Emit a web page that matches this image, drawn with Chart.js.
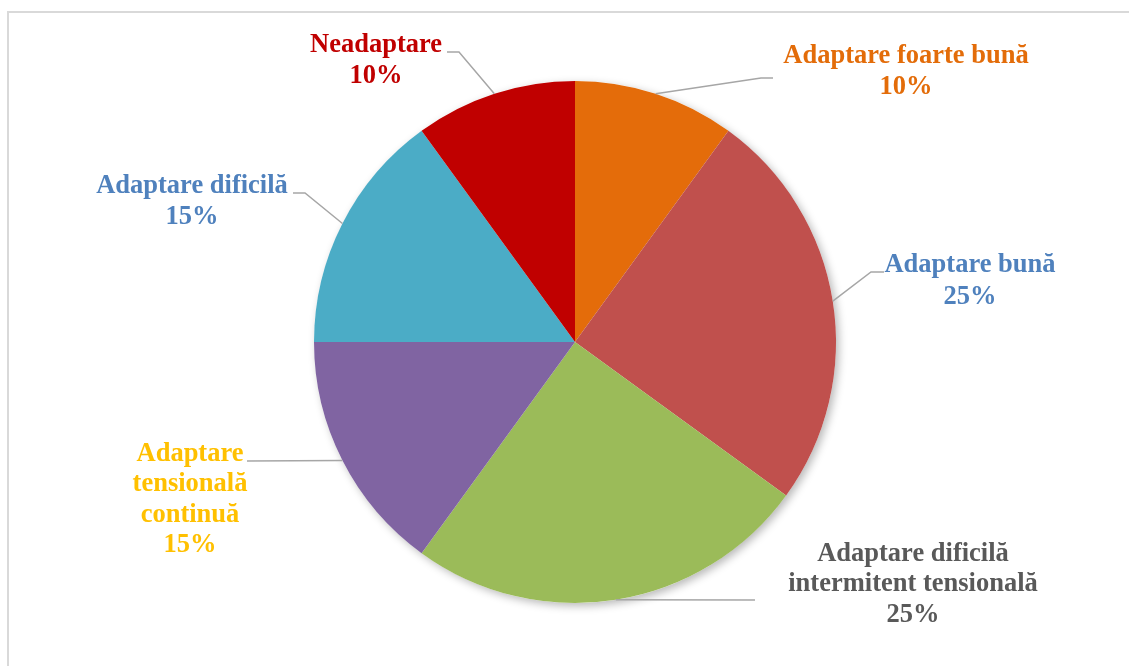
<!DOCTYPE html>
<html>
<head>
<meta charset="utf-8">
<script src="https://cdn.jsdelivr.net/npm/chart.js"></script>
<style>
  html, body { margin: 0; padding: 0; background: #fff; }
  #wrap { width: 1129px; height: 666px; position: relative; }
</style>
</head>
<body>
<div id="wrap"><canvas id="myChart" width="1129" height="666"></canvas></div>
<script>
// data
const categories = [
    ['Adaptare foarte bună'],
    ['Adaptare bună'],
    ['Adaptare dificilă', 'intermitent tensională'],
    ['Adaptare', 'tensională', 'continuă'],
    ['Adaptare dificilă'],
    ['Neadaptare']
];
const values = [10, 25, 25, 15, 15, 10];
const sliceColors = ['#E46C0A', '#C0504D', '#9BBB59', '#8064A2', '#4BACC6', '#C00000'];
const labelColors = ['#E36C09', '#4F81BD', '#595959', '#FFC000', '#4F81BD', '#C00000'];

// label layout, offsets from pie centre: leader elbow, leader end, text centre of first line
const labelLayout = [
    { elbow: [186, -264], end: [198, -264], text: [331, -286], gap: 31 },
    { elbow: [296, -70], end: [309, -70], text: [395, -77], gap: 32 },
    { elbow: null, end: [180, 258], text: [338, 212], gap: 30.5 },
    { elbow: null, end: [-328, 119], text: [-385, 112], gap: 30.5 },
    { elbow: [-270, -149], end: [-282, -149], text: [-383, -156], gap: 31 },
    { elbow: [-116, -290], end: [-128, -290], text: [-199, -297], gap: 31 }
];

const total = values.reduce((a, b) => a + b, 0);

const framePlugin = {
    id: 'frame',
    beforeDraw(chart) {
        const c = chart.ctx;
        c.save();
        c.strokeStyle = '#D9D9D9';
        c.lineWidth = 2;
        c.strokeRect(8, 12, 1200, 700);
        c.restore();
    }
};

const shadowPlugin = {
    id: 'pieShadow',
    beforeDatasetsDraw(chart) {
        const arc = chart.getDatasetMeta(0).data[0];
        if (!arc) return;
        const c = chart.ctx;
        c.save();
        c.shadowColor = 'rgba(0,0,0,0.28)';
        c.shadowBlur = 9;
        c.shadowOffsetX = 3;
        c.shadowOffsetY = 3;
        c.fillStyle = '#ffffff';
        c.beginPath();
        c.arc(arc.x, arc.y, arc.outerRadius, 0, Math.PI * 2);
        c.fill();
        c.restore();
    }
};

const labelPlugin = {
    id: 'pieLabels',
    afterDatasetsDraw(chart) {
        const c = chart.ctx;
        const arcs = chart.getDatasetMeta(0).data;
        arcs.forEach((arc, i) => {
            const mid = (arc.startAngle + arc.endAngle) / 2;
            const sx = arc.x + Math.cos(mid) * arc.outerRadius;
            const sy = arc.y + Math.sin(mid) * arc.outerRadius;
            const L = labelLayout[i];
            c.save();
            c.strokeStyle = '#A6A6A6';
            c.lineWidth = 1.5;
            c.beginPath();
            c.moveTo(sx, sy);
            if (L.elbow) c.lineTo(arc.x + L.elbow[0], arc.y + L.elbow[1]);
            c.lineTo(arc.x + L.end[0], arc.y + L.end[1]);
            c.stroke();

            const lines = categories[i].concat([Math.round(values[i] / total * 100) + '%']);
            c.fillStyle = labelColors[i];
            c.font = 'bold 26.5px "Liberation Serif", "Times New Roman", serif';
            c.textAlign = 'center';
            c.textBaseline = 'middle';
            lines.forEach((t, k) => {
                c.fillText(t, arc.x + L.text[0], arc.y + L.text[1] + k * L.gap);
            });
            c.restore();
        });
    }
};

const ctx = document.getElementById('myChart');
new Chart(ctx, {
    type: 'pie',
    data: {
        labels: categories.map(c => c.join(' ')),
        datasets: [{
            data: values,
            backgroundColor: sliceColors,
            borderWidth: 0
        }]
    },
    options: {
        responsive: false,
        animation: false,
        layout: { padding: { left: 314, right: 293, top: 81, bottom: 63 } },
        plugins: {
            legend: { display: false },
            tooltip: { enabled: false }
        }
    },
    plugins: [framePlugin, shadowPlugin, labelPlugin]
});
</script>
</body>
</html>
